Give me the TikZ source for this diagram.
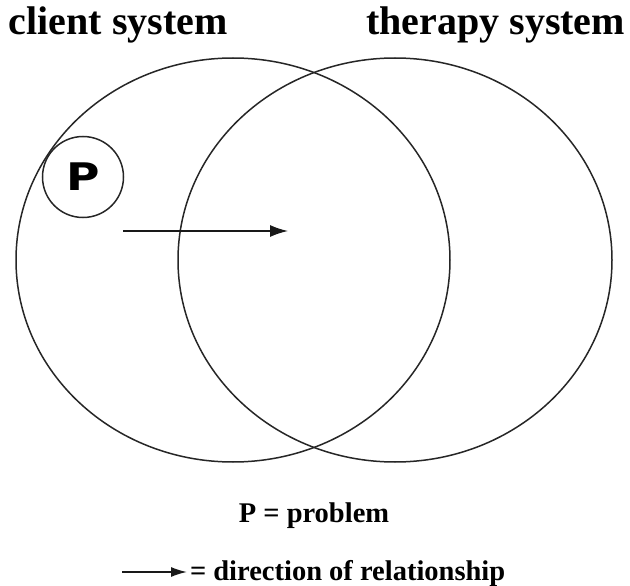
\documentclass[tikz,border=0pt]{standalone}
\usepackage{fontspec}
\setmainfont{Liberation Serif}
\newfontfamily\pfont{DejaVu Sans}
\usetikzlibrary{shapes.geometric}
\usetikzlibrary{arrows.meta}
\tikzstyle{every node}=[inner sep=0pt, outer sep=0pt]

\begin{document}
\begin{tikzpicture}[
    x=1pt, y=-1pt,
    title/.style={%
        font=\fontsize{40}{40}\selectfont\bfseries},
    legend/.style={%
        font=\fontsize{28.5}{28.5}\selectfont\bfseries},
    system/.style={%
        draw=black!85, line width=1.5pt, ellipse,
        minimum width=434pt, minimum height=404pt},
    problem/.style={%
        draw=black!85, line width=1.5pt, circle,
        minimum size=81pt,
        font=\pfont\fontsize{38}{38}\selectfont\bfseries},
    relation/.style={%
        draw=black!90, line width=1.5pt,
        -{Latex[length=18pt,width=12pt]}},
]
%   \draw[help lines] (0,0) grid (630,586);
    \useasboundingbox (0,0) rectangle (630,586);

    % Headings
    \node[title, anchor=base west] (clienttitle) at (9,35) {client system};
    \node[title, anchor=base east] (therapytitle) at (625,35) {therapy system};

    % Systems
    \node[system] (client) at (233,260) {};
    \node[system] (therapy) at (395,260) {};

    % Problem and relationship
    \node[problem] (p) at (83,177) {\scalebox{1.2}[1]{P}};
    \coordinate (relstart) at (123,231);
    \coordinate (relend) at (288,231);
    \draw[relation] (relstart) -- (relend);

    % Legend
    \node[legend, anchor=base] (pkey) at (314,522) {P = problem};
    \coordinate (keystart) at (122,572);
    \coordinate (keyend) at (187,572);
    \draw[relation, -{Latex[length=16pt,width=10pt]}] (keystart) -- (keyend);
    \node[legend, anchor=base west] (arrowkey) at (190,580) {= direction of relationship};
\end{tikzpicture}
\end{document}
